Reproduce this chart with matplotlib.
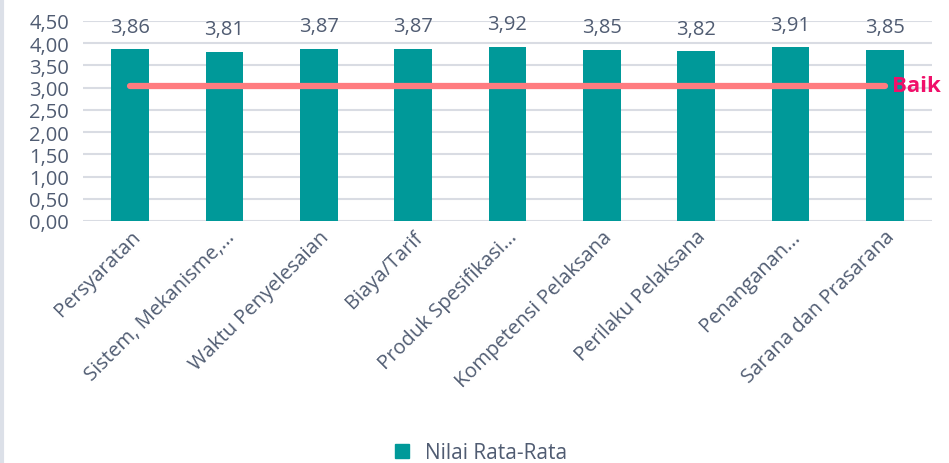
import matplotlib.pyplot as plt
from matplotlib.lines import Line2D

categories = ["Persyaratan", "Sistem, Mekanisme,...", "Waktu Penyelesaian",
              "Biaya/Tarif", "Produk Spesifikasi...", "Kompetensi Pelaksana",
              "Perilaku Pelaksana", "Penanganan...", "Sarana dan Prasarana"]
nilai = [3.86, 3.81, 3.87, 3.87, 3.92, 3.85, 3.82, 3.91, 3.85]
baik = 3.04
yticks = [0, 0.5, 1, 1.5, 2, 2.5, 3, 3.5, 4, 4.5]

plt.rcParams['font.family'] = ['Open Sans', 'DejaVu Sans']
text_color = "#505C72"

fig = plt.figure(figsize=(9.49, 4.64), dpi=100)
ax = fig.add_axes([0.0875, 0.5216, 0.8945, 0.431])

x = list(range(len(categories)))
ax.bar(x, nilai, width=0.4, color="#009999", zorder=3, label="Nilai Rata-Rata")
for xi, v in zip(x, nilai):
    ax.annotate(f"{v:.2f}".replace(".", ","), (xi, v), xytext=(0, 9),
                textcoords="offset points", ha="center", va="bottom",
                fontsize=14.5, color=text_color)

ax.plot([x[0], x[-1]], [baik, baik], color="#FF7C80", lw=4.5,
        solid_capstyle="round", zorder=4)
ax.annotate("Baik", (x[-1], baik), xytext=(5, 0), textcoords="offset points",
            ha="left", va="center", fontsize=16, fontweight="bold",
            color="#F0106A")

ax.set_xlim(-0.5, len(categories) - 0.5)
ax.set_ylim(0, 4.5)
ax.set_yticks(yticks)
ax.set_yticklabels([f"{t:.2f}".replace(".", ",") for t in yticks],
                   fontsize=14.5, color=text_color)
ax.set_xticks(x)
ax.set_xticklabels(categories, rotation=45, ha="right", rotation_mode="anchor",
                   fontsize=14.5, color=text_color)
ax.tick_params(length=0, pad=4)
ax.tick_params(axis="y", pad=10)
ax.grid(axis="y", color="#D9DCE3", lw=1.5, zorder=0)
for s in ax.spines.values():
    s.set_visible(False)

handle = Line2D([], [], marker="s", color="#009999", linestyle="none", markersize=10)
fig.legend([handle], ["Nilai Rata-Rata"], loc="center", bbox_to_anchor=(0.5, 0.022),
           frameon=False, fontsize=15, labelcolor=text_color, handletextpad=0.1)

fig.add_artist(Line2D([0.002, 0.002], [0, 1], color="#DCE0E8", lw=3,
                      transform=fig.transFigure))

fig.savefig("out.png", dpi=100)
